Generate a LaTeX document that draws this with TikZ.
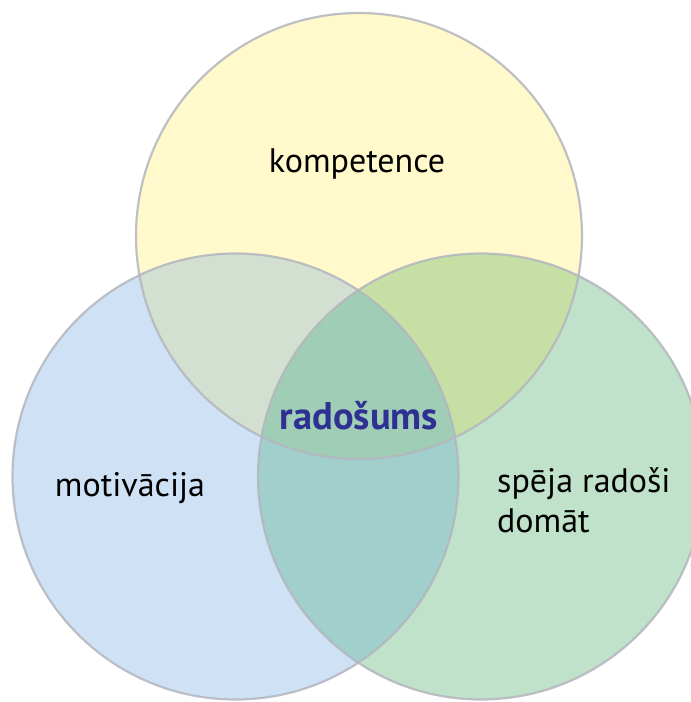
\documentclass[tikz,border=0pt]{standalone}
\usepackage{fontspec}
\setmainfont{PT Sans}
\definecolor{cyel}{HTML}{FFF9CC}
\definecolor{cblue}{HTML}{CFE2F5}
\definecolor{cgreen}{HTML}{C0E1CA}
\definecolor{cyb}{HTML}{D3DFD0}
\definecolor{cyg}{HTML}{C5DFA5}
\definecolor{cbg}{HTML}{A0CFCC}
\definecolor{cmid}{HTML}{A0CDB5}
\definecolor{cline}{HTML}{B4B6BE}
\definecolor{cnavy}{HTML}{2E3192}
\tikzset{
  outl/.style={draw=cline, line width=2.2pt, draw opacity=0.85},
  lbl/.style={font=\fontsize{34}{40}\selectfont, text=black, inner sep=0pt},
  lblc/.style={font=\fontsize{38.5}{40}\selectfont\bfseries, text=cnavy, inner sep=0pt}
}
\begin{document}
\begin{tikzpicture}[x=1pt,y=-1pt]
\useasboundingbox (0,0) rectangle (691,702);
\fill[white] (0,0) rectangle (691,702);
\clip (0,0) rectangle (691,702);
\coordinate (cy) at (359,236);
\coordinate (cb) at (235.5,476.5);
\coordinate (cg) at (481,476.5);
\def\rr{223}
\fill[cyel] (cy) circle[radius=\rr];
\fill[cblue] (cb) circle[radius=\rr];
\fill[cgreen] (cg) circle[radius=\rr];
\begin{scope}
  \clip (cy) circle[radius=\rr];
  \fill[cyb] (cb) circle[radius=\rr];
  \fill[cyg] (cg) circle[radius=\rr];
\end{scope}
\begin{scope}
  \clip (cb) circle[radius=\rr];
  \fill[cbg] (cg) circle[radius=\rr];
\end{scope}
\begin{scope}
  \clip (cy) circle[radius=\rr];
  \clip (cb) circle[radius=\rr];
  \fill[cmid] (cg) circle[radius=\rr];
\end{scope}
\draw[outl] (cy) circle[radius=\rr];
\draw[outl] (cb) circle[radius=\rr];
\draw[outl] (cg) circle[radius=\rr];
\node[lbl] (komp) at (357,164) {kompetence};
\node[lbl] (moti) at (130,488) {motivācija};
\node[lbl, anchor=west, align=left] (speja) at (497,500) {spēja radoši\\domāt};
\node[lblc] (rado) at (359,416) {radošums};
\end{tikzpicture}
\end{document}
